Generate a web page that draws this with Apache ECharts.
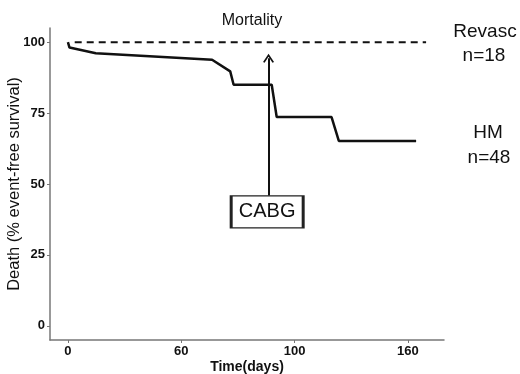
<!DOCTYPE html>
<html>
<head>
<meta charset="utf-8">
<script src="https://cdn.jsdelivr.net/npm/echarts@6/dist/echarts.min.js"></script>
<style>
  html, body { margin: 0; padding: 0; background: #fff; }
  #chart { width: 520px; height: 374px; }
</style>
</head>
<body>
<div id="chart"></div>
<script>
// HM group survival curve (x in plot units, y in %)
const hmX = [0, 0.7, 12.3, 63.6, 71.6, 73.1, 89.9, 92.1, 116.3, 119.5, 153.6]
const hmY = [100, 98.1, 96.1, 93.8, 89.7, 85.0, 85.0, 73.6, 73.6, 65.2, 65.2]
// Revasc group: no events
const revX = [3, 158]
const revY = [100, 100]

const xTickValues = [0, 50, 100, 150]
const xTickLabels = ['0', '60', '100', '160']
const yTickValues = [0, 25, 50, 75, 100]

const cabgX = 88.5
const arrowFrom = 45.9
const arrowTo = 94.3
const boxY = 40.2

const chart = echarts.init(document.getElementById('chart'))
const axisColor = '#777'
const font = 'Liberation Sans, Arial, sans-serif'

function pairs(xs, ys) {
  return xs.map((x, i) => [x, ys[i]])
}

function sideText(text, x, y) {
  return {
    type: 'text',
    style: {
      text: text,
      x: x,
      y: y,
      textAlign: 'center',
      textVerticalAlign: 'middle',
      font: '19px ' + font,
      fill: '#111'
    }
  }
}

const option = {
  animation: false,
  title: {
    text: 'Mortality',
    left: 247,
    textAlign: 'center',
    top: 8,
    textStyle: { fontFamily: font, fontSize: 16, fontWeight: 'normal', color: '#111' }
  },
  grid: { left: 50, right: 76, top: 28, bottom: 34, outerBoundsMode: 'none', containLabel: false },
  xAxis: {
    type: 'value',
    min: -7.9,
    max: 165.9,
    name: 'Time(days)',
    nameLocation: 'middle',
    nameGap: 20,
    nameMoveOverlap: false,
    nameTextStyle: { fontFamily: font, fontSize: 14, fontWeight: 'bold', color: '#111' },
    axisLine: { show: true, onZero: false, lineStyle: { color: axisColor, width: 1.5 } },
    axisTick: { show: true, length: 3, customValues: xTickValues, lineStyle: { color: axisColor } },
    axisLabel: {
      customValues: xTickValues,
      margin: 5,
      fontFamily: font,
      fontSize: 13,
      fontWeight: 'bold',
      color: '#111',
      formatter: v => xTickLabels[xTickValues.indexOf(v)]
    },
    splitLine: { show: false }
  },
  yAxis: {
    type: 'value',
    min: -5,
    max: 105,
    name: 'Death (% event-free survival)',
    nameLocation: 'middle',
    nameGap: 27,
    nameMoveOverlap: false,
    nameTextStyle: { fontFamily: font, fontSize: 16.5, fontWeight: 'normal', color: '#111' },
    axisLine: { show: true, onZero: false, lineStyle: { color: axisColor, width: 1.5 } },
    axisTick: { show: true, length: 3, customValues: yTickValues, lineStyle: { color: axisColor } },
    axisLabel: {
      customValues: yTickValues,
      margin: 5,
      fontFamily: font,
      fontSize: 13,
      fontWeight: 'bold',
      color: '#111'
    },
    splitLine: { show: false }
  },
  series: [
    {
      name: 'Revasc',
      type: 'line',
      data: pairs(revX, revY),
      showSymbol: false,
      lineStyle: { color: '#111', width: 2, type: [7, 5] }
    },
    {
      name: 'HM',
      type: 'line',
      data: pairs(hmX, hmY),
      showSymbol: false,
      lineStyle: { color: '#111', width: 2.5 },
      markLine: {
        silent: true,
        symbol: ['none', 'path://M0,9 L5,0 L10,9 L8.6,10 L5,3.2 L1.4,10 Z'],
        symbolSize: [11, 9],
        label: { show: false },
        lineStyle: { color: '#111', width: 2, type: 'solid' },
        data: [[{ coord: [cabgX, arrowFrom] }, { coord: [cabgX, arrowTo] }]]
      },
      markPoint: {
        silent: true,
        symbol: 'rect',
        symbolSize: [72, 32],
        itemStyle: { color: '#fff', borderColor: '#222', borderWidth: 2 },
        label: {
          show: true,
          formatter: 'CABG',
          fontFamily: font,
          fontSize: 20,
          color: '#111'
        },
        data: [{ coord: [cabgX - 0.6, boxY] }]
      }
    }
  ],
  graphic: [
    sideText('Revasc', 485, 31.5),
    sideText('n=18', 484, 56),
    sideText('HM', 488, 132.5),
    sideText('n=48', 489, 157.5)
  ]
}

chart.setOption(option)
</script>
</body>
</html>
